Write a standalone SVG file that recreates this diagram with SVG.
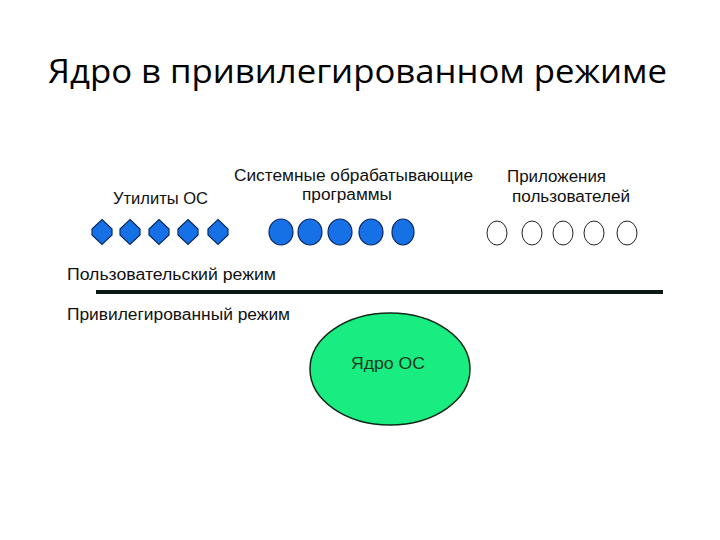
<svg xmlns="http://www.w3.org/2000/svg" width="720" height="540" viewBox="0 0 720 540">
<defs>
<style>
.t{font-family:"Liberation Sans",Arial,sans-serif;font-size:16px;fill:#111}
.title{font-family:"Open Sans","Liberation Sans",sans-serif;font-size:32px;fill:#000}
.dia{fill:#1670e6;stroke:#0a2a60;stroke-width:1.2}
.fc{fill:#1670e6;stroke:#0a2a60;stroke-width:1.2}
.hc{fill:#fff;stroke:#222;stroke-width:1}
</style>
<polygon id="dshape" points="0,-12.5 10,-3 10,3 0,12.5 -10,3 -10,-3"/>
</defs>
<rect width="720" height="540" fill="#fff"/>
<text class="title" x="48" y="83" textLength="619" lengthAdjust="spacingAndGlyphs">Ядро в привилегированном режиме</text>

<g id="utils">
<text class="t" x="113" y="204" textLength="95" lengthAdjust="spacingAndGlyphs">Утилиты ОС</text>
<use href="#dshape" class="dia" x="102" y="232"/>
<use href="#dshape" class="dia" x="130" y="232"/>
<use href="#dshape" class="dia" x="159" y="232"/>
<use href="#dshape" class="dia" x="188" y="232"/>
<use href="#dshape" class="dia" x="218" y="232"/>
</g>

<g id="system">
<text class="t" x="234" y="181" textLength="239" lengthAdjust="spacingAndGlyphs">Системные обрабатывающие</text>
<text class="t" x="302" y="200" textLength="90" lengthAdjust="spacingAndGlyphs">программы</text>
<ellipse class="fc" cx="281" cy="232" rx="12" ry="13"/>
<ellipse class="fc" cx="310" cy="232" rx="12" ry="13"/>
<ellipse class="fc" cx="340" cy="232" rx="12" ry="13"/>
<ellipse class="fc" cx="371" cy="232" rx="12" ry="13"/>
<ellipse class="fc" cx="403" cy="232" rx="11" ry="13"/>
</g>

<g id="apps">
<text class="t" x="507" y="182" textLength="99" lengthAdjust="spacingAndGlyphs">Приложения</text>
<text class="t" x="512" y="202" textLength="118" lengthAdjust="spacingAndGlyphs">пользователей</text>
<ellipse class="hc" cx="497" cy="233" rx="10" ry="12"/>
<ellipse class="hc" cx="532" cy="233" rx="10" ry="12"/>
<ellipse class="hc" cx="563" cy="233" rx="10" ry="12"/>
<ellipse class="hc" cx="594" cy="233" rx="10" ry="12"/>
<ellipse class="hc" cx="627" cy="233" rx="10" ry="12"/>
</g>

<g id="modes">
<text class="t" x="67" y="280" textLength="209" lengthAdjust="spacingAndGlyphs">Пользовательский режим</text>
<line x1="96" y1="292" x2="663" y2="292" stroke="#0b1a12" stroke-width="4"/>
<text class="t" x="67" y="320" textLength="223" lengthAdjust="spacingAndGlyphs">Привилегированный режим</text>
</g>

<g id="kernel">
<ellipse cx="390" cy="369" rx="80" ry="56" fill="#19ec80" stroke="#0d2a18" stroke-width="1.5"/>
<text class="t" x="351" y="369" textLength="74" lengthAdjust="spacingAndGlyphs" style="fill:#1a3a20">Ядро ОС</text>
</g>
</svg>
